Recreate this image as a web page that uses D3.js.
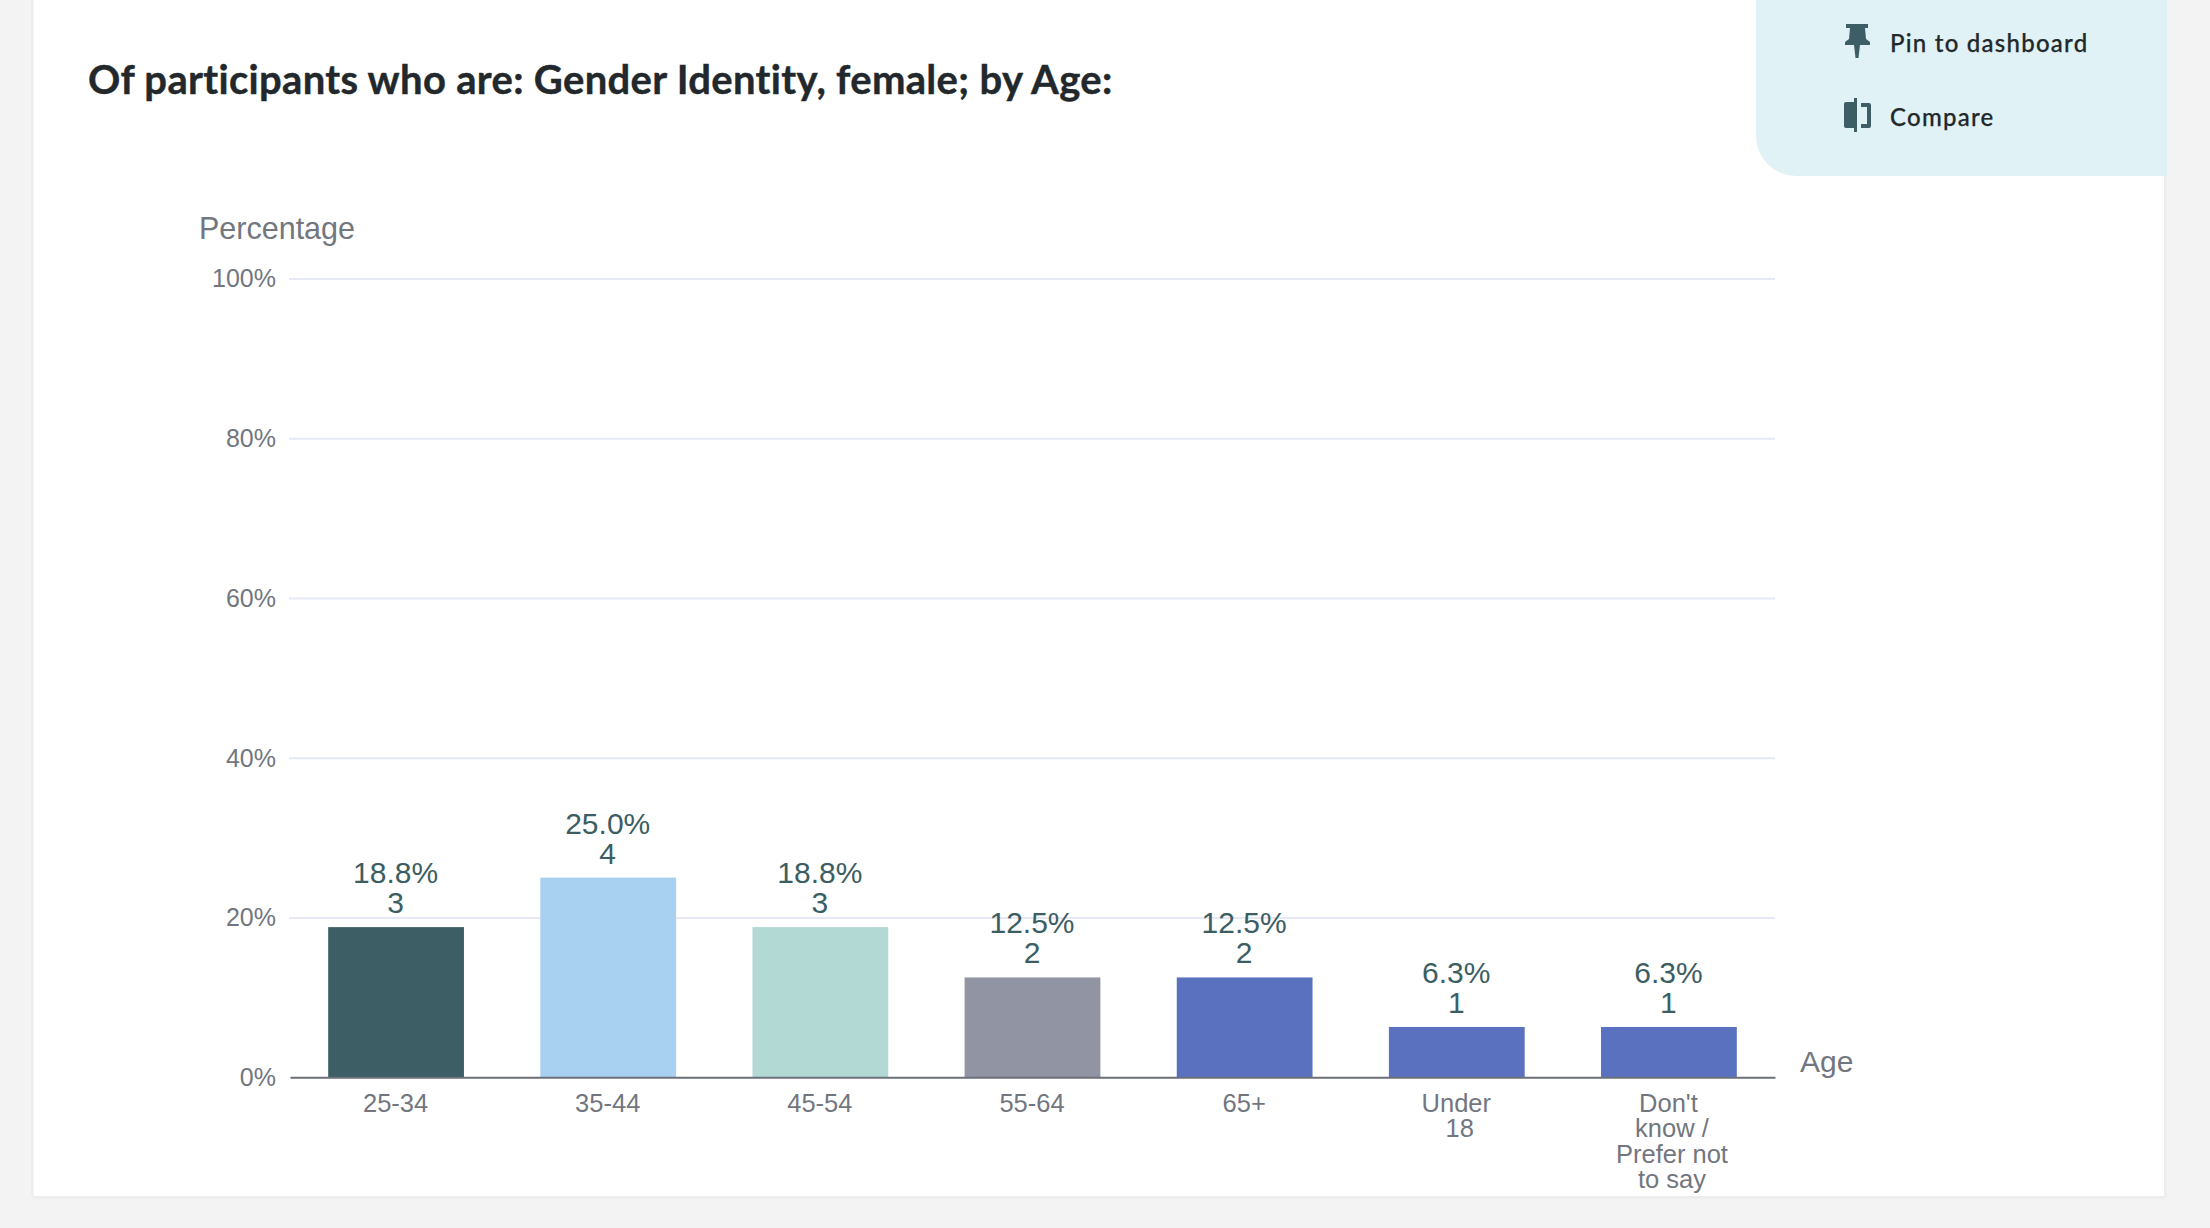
<!DOCTYPE html>
<html>
<head>
<meta charset="utf-8">
<script src="https://cdn.jsdelivr.net/npm/d3@7"></script>
<style>
  html, body { margin: 0; padding: 0; background: #f4f3f4; }
  svg { display: block; }
  .axis-text { font-family: "Liberation Sans", Arial, sans-serif; fill: #72767f; }
  .ui-text { font-family: Lato, sans-serif; fill: #22282b; stroke: #22282b; stroke-width: 0.25; font-size: 24px; font-weight: 500; letter-spacing: 1.25px; }
</style>
</head>
<body>
<svg id="chart" width="2210" height="1228"></svg>
<script>
const titleText = 'Of participants who are: Gender Identity, female; by Age:';
const categories = ['25-34', '35-44', '45-54', '55-64', '65+', 'Under 18', "Don't know / Prefer not to say"];
const tickLines = [['25-34'], ['35-44'], ['45-54'], ['55-64'], ['65+'], ['Under', '18'], ["Don't", 'know /', 'Prefer not', 'to say']];
const percentages = [18.8, 25.0, 18.8, 12.5, 12.5, 6.3, 6.3];
const counts = [3, 4, 3, 2, 2, 1, 1];
const barColors = ['#3d5e64', '#a8d0f1', '#b2d9d4', '#9094a3', '#5a71c0', '#5a71c0', '#5a71c0'];
const yTicks = [0, 20, 40, 60, 80, 100];

const svg = d3.select('#chart');

// card and the action panel behind the chart
svg.append('rect').attr('x', 31).attr('y', -10).attr('width', 2136).attr('height', 1209).attr('rx', 5).attr('fill', '#ededee');
svg.append('rect').attr('x', 33.5).attr('y', -10).attr('width', 2130.5).attr('height', 1206).attr('fill', '#fff');
svg.append('path')
  .attr('d', 'M1756,0 V136 A40,40 0 0 0 1796,176 H2167 V0 Z')
  .attr('fill', '#e0f2f5');

// pin icon
svg.append('path')
  .attr('d', 'M1846,24 H1868 V28 H1865 L1866,39 L1870,42 V45 H1860 L1858.5,58 H1855.5 L1854,45 H1845 V42 L1849,39 L1850,28 H1846 Z')
  .attr('fill', '#3d5e64');
// compare icon
svg.append('path')
  .attr('d', 'M1846,102 H1854 V98 H1857 V132 H1854 V128 H1846 Q1844,128 1844,126 V104 Q1844,102 1846,102 Z')
  .attr('fill', '#3d5e64');
svg.append('path')
  .attr('d', 'M1861,103 H1869 Q1871,103 1871,105 V126 Q1871,128 1869,128 H1861 V124 H1867 V107 H1861 Z')
  .attr('fill', '#3d5e64');

svg.append('text').attr('class', 'ui-text').attr('x', 1890).attr('y', 52).text('Pin to dashboard');
svg.append('text').attr('class', 'ui-text').attr('x', 1890).attr('y', 126).text('Compare');

svg.append('text')
  .attr('x', 88).attr('y', 93.5)
  .attr('font-family', 'Lato, sans-serif')
  .attr('font-weight', 700)
  .attr('font-size', 40)
  .attr('letter-spacing', 0.32)
  .attr('fill', '#22282b')
  .attr('stroke', '#22282b')
  .attr('stroke-width', 0.4)
  .text(titleText);

const x = d3.scaleBand()
  .domain(categories)
  .range([290, 1775])
  .paddingInner(0.36)
  .paddingOuter(0.18);

const y = d3.scaleLinear()
  .domain([0, 100])
  .range([1077.3, 278.5]);

// y axis: labels and gridlines
const yAxis = svg.append('g')
  .attr('transform', 'translate(289,0)')
  .call(d3.axisLeft(y).tickValues(yTicks).tickFormat(d => d + '%').tickSize(0).tickPadding(13));
yAxis.select('.domain').remove();
yAxis.selectAll('text')
  .attr('class', 'axis-text')
  .attr('font-size', 25)
  .attr('font-family', null)
  .attr('dy', '0.33em');
yAxis.selectAll('.tick')
  .filter(d => d !== 0)
  .append('line')
  .attr('x1', 0)
  .attr('x2', 1486)
  .attr('stroke', '#e6e9f5')
  .attr('stroke-width', 2);

// bars
svg.selectAll('rect.bar')
  .data(categories)
  .enter()
  .append('rect')
  .attr('class', 'bar')
  .attr('x', d => x(d))
  .attr('y', (d, i) => y(percentages[i]))
  .attr('width', x.bandwidth())
  .attr('height', (d, i) => y(0) - y(percentages[i]))
  .attr('fill', (d, i) => barColors[i]);

// x axis
const xAxis = svg.append('g')
  .attr('transform', `translate(0,${y(0)})`)
  .call(d3.axisBottom(x).tickSize(0).tickFormat(''));
xAxis.select('.domain')
  .attr('stroke', '#6c6f7a')
  .attr('stroke-width', 2);
xAxis.selectAll('.tick text').remove();
xAxis.selectAll('.tick')
  .append('text')
  .attr('class', 'axis-text')
  .attr('font-size', 25.5)
  .attr('text-anchor', 'middle')
  .each(function (d, i) {
    d3.select(this).selectAll('tspan')
      .data(tickLines[i])
      .enter()
      .append('tspan')
      .attr('x', (_, j) => j === 0 ? -0.5 : 3)
      .attr('y', (_, j) => 34.5 + j * 25.5)
      .text(line => line);
  });

// value labels
const labels = svg.selectAll('g.value')
  .data(categories)
  .enter()
  .append('g')
  .attr('class', 'value')
  .attr('transform', (d, i) => `translate(${x(d) + x.bandwidth() / 2 - 0.5},${y(percentages[i])})`)
  .attr('font-family', '"Liberation Sans", Arial, sans-serif')
  .attr('font-size', 30)
  .attr('fill', '#3c5e63')
  .attr('text-anchor', 'middle');
labels.append('text').attr('y', -44).text((d, i) => percentages[i].toFixed(1) + '%');
labels.append('text').attr('y', -14).text((d, i) => counts[i]);

// axis titles
svg.append('text').attr('class', 'axis-text').attr('x', 199).attr('y', 238.5).attr('font-size', 30.5).text('Percentage');
svg.append('text').attr('class', 'axis-text').attr('x', 1800).attr('y', 1071.5).attr('font-size', 30).text('Age');
</script>
</body>
</html>
